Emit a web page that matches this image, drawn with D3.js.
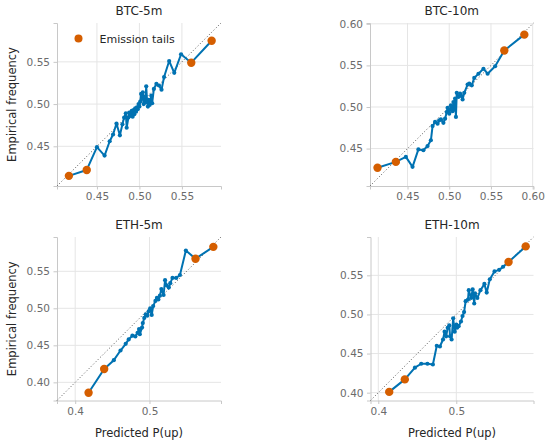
<!DOCTYPE html>
<html><head><meta charset="utf-8">
<script src="https://cdn.jsdelivr.net/npm/d3@7"></script>
<style>
body{margin:0;background:#fff}
svg{display:block;font-family:"DejaVu Sans",sans-serif}
</style>
</head><body>
<svg id="c" width="550" height="444"></svg>
<script>
// ---------------- data ----------------
const btc5Pred = [0.417,0.438,0.450,0.459,0.465,0.469,0.473,0.477,0.480,0.482,0.484,0.485,0.487,0.488,0.490,0.491,0.492,0.493,0.494,0.495,0.496,0.497,0.498,0.499,0.500,0.501,0.502,0.503,0.504,0.505,0.506,0.507,0.508,0.509,0.510,0.511,0.512,0.514,0.515,0.517,0.520,0.523,0.526,0.529,0.535,0.541,0.549,0.561,0.585];
const btc5Emp  = [0.415,0.422,0.449,0.439,0.456,0.464,0.477,0.463,0.476,0.484,0.489,0.472,0.484,0.490,0.486,0.492,0.485,0.493,0.488,0.495,0.491,0.496,0.494,0.500,0.497,0.503,0.512,0.506,0.514,0.500,0.509,0.502,0.521,0.504,0.497,0.505,0.499,0.510,0.501,0.518,0.524,0.522,0.517,0.532,0.551,0.537,0.559,0.549,0.575];

const btc10Pred = [0.414,0.436,0.448,0.456,0.463,0.469,0.474,0.478,0.480,0.483,0.486,0.488,0.490,0.493,0.495,0.497,0.498,0.500,0.501,0.502,0.504,0.505,0.506,0.507,0.508,0.509,0.511,0.513,0.515,0.516,0.518,0.522,0.524,0.527,0.530,0.535,0.541,0.546,0.555,0.566,0.590];
const btc10Emp  = [0.427,0.434,0.440,0.428,0.449,0.448,0.453,0.460,0.477,0.482,0.480,0.484,0.485,0.481,0.486,0.494,0.499,0.492,0.497,0.502,0.495,0.506,0.497,0.510,0.488,0.517,0.512,0.516,0.513,0.509,0.517,0.527,0.528,0.526,0.535,0.540,0.546,0.540,0.549,0.568,0.587];

const eth5Pred = [0.418,0.439,0.452,0.461,0.468,0.472,0.477,0.481,0.484,0.486,0.487,0.490,0.491,0.493,0.495,0.497,0.499,0.501,0.503,0.505,0.508,0.510,0.512,0.514,0.516,0.519,0.521,0.523,0.526,0.528,0.531,0.536,0.541,0.549,0.562,0.586];
const eth5Emp  = [0.386,0.418,0.430,0.443,0.452,0.458,0.463,0.462,0.467,0.472,0.465,0.474,0.480,0.487,0.492,0.490,0.496,0.500,0.491,0.503,0.510,0.514,0.512,0.517,0.526,0.518,0.538,0.531,0.528,0.534,0.541,0.541,0.545,0.578,0.567,0.583];

const eth10Pred = [0.414,0.434,0.447,0.455,0.463,0.470,0.475,0.479,0.483,0.485,0.487,0.489,0.491,0.492,0.494,0.496,0.498,0.500,0.501,0.503,0.506,0.508,0.510,0.512,0.515,0.516,0.519,0.521,0.523,0.524,0.527,0.531,0.536,0.539,0.543,0.549,0.555,0.560,0.567,0.589];
const eth10Emp  = [0.401,0.417,0.432,0.437,0.437,0.436,0.460,0.459,0.468,0.478,0.472,0.483,0.486,0.472,0.468,0.495,0.478,0.487,0.483,0.485,0.491,0.498,0.503,0.517,0.519,0.531,0.521,0.532,0.514,0.527,0.521,0.531,0.539,0.528,0.545,0.555,0.557,0.561,0.567,0.587];

const panelTitles = ["BTC-5m","BTC-10m","ETH-5m","ETH-10m"];
const btc5Ticks  = ["0.45","0.50","0.55"];
const btc10Ticks = ["0.45","0.50","0.55","0.60"];
const eth5XTicks = ["0.4","0.5"];
const eth5YTicks = ["0.40","0.45","0.50","0.55"];
const eth10XTicks = ["0.4","0.5"];
const eth10YTicks = ["0.40","0.45","0.50","0.55"];
const btc5Lim  = [0.403, 0.596];
const btc10Lim = [0.405, 0.601];
const eth5Lim  = [0.3755, 0.5963];
const eth10Lim = [0.390, 0.599];
const legendLabel = "Emission tails";
const yLabel = "Empirical frequency";
const xLabel = "Predicted P(up)";

// ---------------- drawing ----------------
const BLUE = "#0072b2", ORANGE = "#d55e00";
const svg = d3.select("#c");

const panels = [
  {title:panelTitles[0], pred:btc5Pred, emp:btc5Emp, lim:btc5Lim, xt:btc5Ticks, yt:btc5Ticks, box:{l:57,r:221,t:23,b:186}, ylab:true, xlab:false, legend:true},
  {title:panelTitles[1], pred:btc10Pred, emp:btc10Emp, lim:btc10Lim, xt:btc10Ticks, yt:btc10Ticks, box:{l:370,r:533.5,t:23,b:186}, ylab:false, xlab:false, legend:false},
  {title:panelTitles[2], pred:eth5Pred, emp:eth5Emp, lim:eth5Lim, xt:eth5XTicks, yt:eth5YTicks, box:{l:57,r:221,t:237,b:400.5}, ylab:true, xlab:true, legend:false},
  {title:panelTitles[3], pred:eth10Pred, emp:eth10Emp, lim:eth10Lim, xt:eth10XTicks, yt:eth10YTicks, box:{l:370.5,r:533.5,t:237,b:400.5}, ylab:false, xlab:true, legend:false}
];

panels.forEach(p => {
  const {l,r,t,b} = p.box;
  const x = d3.scaleLinear().domain(p.lim).range([l,r]);
  const y = d3.scaleLinear().domain(p.lim).range([b,t]);
  const g = svg.append("g");

  // grid
  g.selectAll(".vg").data(p.xt).join("line")
    .attr("x1",d=>x(+d)).attr("x2",d=>x(+d)).attr("y1",t).attr("y2",b)
    .attr("stroke","#e5e5e5").attr("stroke-width",1);
  g.selectAll(".hg").data(p.yt).join("line")
    .attr("y1",d=>y(+d)).attr("y2",d=>y(+d)).attr("x1",l).attr("x2",r)
    .attr("stroke","#e5e5e5").attr("stroke-width",1);

  // axes
  const ax = g.append("g").attr("transform",`translate(0,${b})`)
    .call(d3.axisBottom(x).tickValues(p.xt.map(Number)).tickFormat((d,i)=>p.xt[i]).tickSize(3.5).tickPadding(3.5));
  const ay = g.append("g").attr("transform",`translate(${l},0)`)
    .call(d3.axisLeft(y).tickValues(p.yt.map(Number)).tickFormat((d,i)=>p.yt[i]).tickSize(3.5).tickPadding(3.5));
  [ax,ay].forEach(a=>{
    a.select(".domain").attr("stroke","#c8c8c8").attr("stroke-width",1);
    a.selectAll(".tick line").attr("stroke","#c8c8c8");
    a.selectAll(".tick text").attr("fill","#6b6b6b").style("font-size","10.5px").style("font-family","DejaVu Sans");
  });

  // diagonal
  g.append("line")
    .attr("x1",x(p.lim[0])).attr("y1",y(p.lim[0])).attr("x2",x(p.lim[1])).attr("y2",y(p.lim[1]))
    .attr("stroke","#555").attr("stroke-width",1).attr("stroke-dasharray","1,2.2");

  const pts = p.pred.map((v,i)=>[v,p.emp[i]]);
  g.append("path").datum(pts)
    .attr("d",d3.line().x(d=>x(d[0])).y(d=>y(d[1])))
    .attr("fill","none").attr("stroke",BLUE).attr("stroke-width",2).attr("stroke-linejoin","round");
  g.selectAll(".pt").data(pts).join("circle")
    .attr("cx",d=>x(d[0])).attr("cy",d=>y(d[1])).attr("r",2.1).attr("fill",BLUE);
  const n = pts.length;
  const tails = [pts[0],pts[1],pts[n-2],pts[n-1]];
  g.selectAll(".tail").data(tails).join("circle")
    .attr("cx",d=>x(d[0])).attr("cy",d=>y(d[1])).attr("r",4.2).attr("fill",ORANGE);

  // title
  g.append("text").attr("x",(l+r)/2).attr("y",t-8).attr("text-anchor","middle")
    .attr("fill","#262626").style("font-size","12px").text(p.title);
  if (p.ylab) {
    g.append("text").attr("transform",`translate(16,${(t+b)/2}) rotate(-90)`).attr("text-anchor","middle")
      .attr("fill","#262626").style("font-size","11.5px").text(yLabel);
  }
  if (p.xlab) {
    g.append("text").attr("x",(l+r)/2).attr("y",b+36).attr("text-anchor","middle")
      .attr("fill","#262626").style("font-size","11.5px").text(xLabel);
  }
  if (p.legend) {
    g.append("circle").attr("cx",l+21.5).attr("cy",t+15.5).attr("r",4).attr("fill",ORANGE);
    g.append("text").attr("x",l+42.5).attr("y",t+19.5).attr("fill","#262626").style("font-size","11px").text(legendLabel);
  }
});
</script>
</body></html>
